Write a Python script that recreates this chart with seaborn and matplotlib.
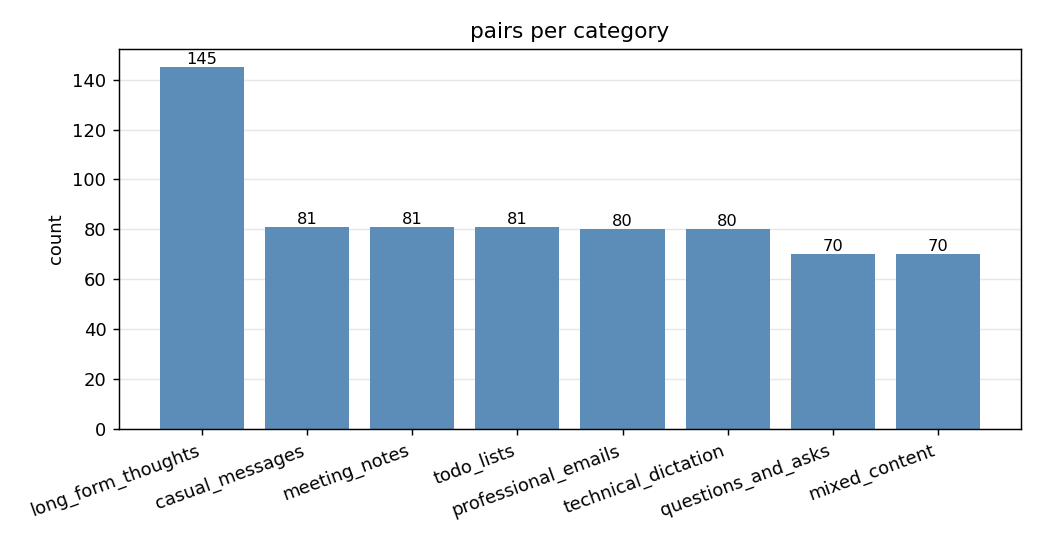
import matplotlib
matplotlib.use("Agg")
import matplotlib.pyplot as plt
import seaborn as sns
import pandas as pd

categories = ["long_form_thoughts", "casual_messages", "meeting_notes", "todo_lists",
              "professional_emails", "technical_dictation", "questions_and_asks", "mixed_content"]
counts = [145, 81, 81, 81, 80, 80, 70, 70]

df = pd.DataFrame({"category": categories, "count": counts})

fig, ax = plt.subplots(figsize=(8, 4.2), dpi=130)
fig.subplots_adjust(left=0.1144, right=0.9817, top=0.910, bottom=0.2143)

sns.barplot(data=df, x="category", y="count", color="#5b8db8",
            width=0.8, saturation=1, ax=ax, zorder=2)
for c in ax.containers:
    ax.bar_label(c, fontsize=9, padding=0)

ax.set_xlim(-0.79, 7.79)
ax.set_ylim(0, 152.25)
ax.yaxis.grid(True, alpha=0.3, zorder=0)
ax.set_axisbelow(True)
ax.set_title("pairs per category", fontsize=12)
ax.set_xlabel("")
ax.set_ylabel("count", fontsize=10)
ax.tick_params(axis="both", labelsize=10)
plt.setp(ax.get_xticklabels(), rotation=20, ha="right")

plt.savefig("out.png", dpi=130)
